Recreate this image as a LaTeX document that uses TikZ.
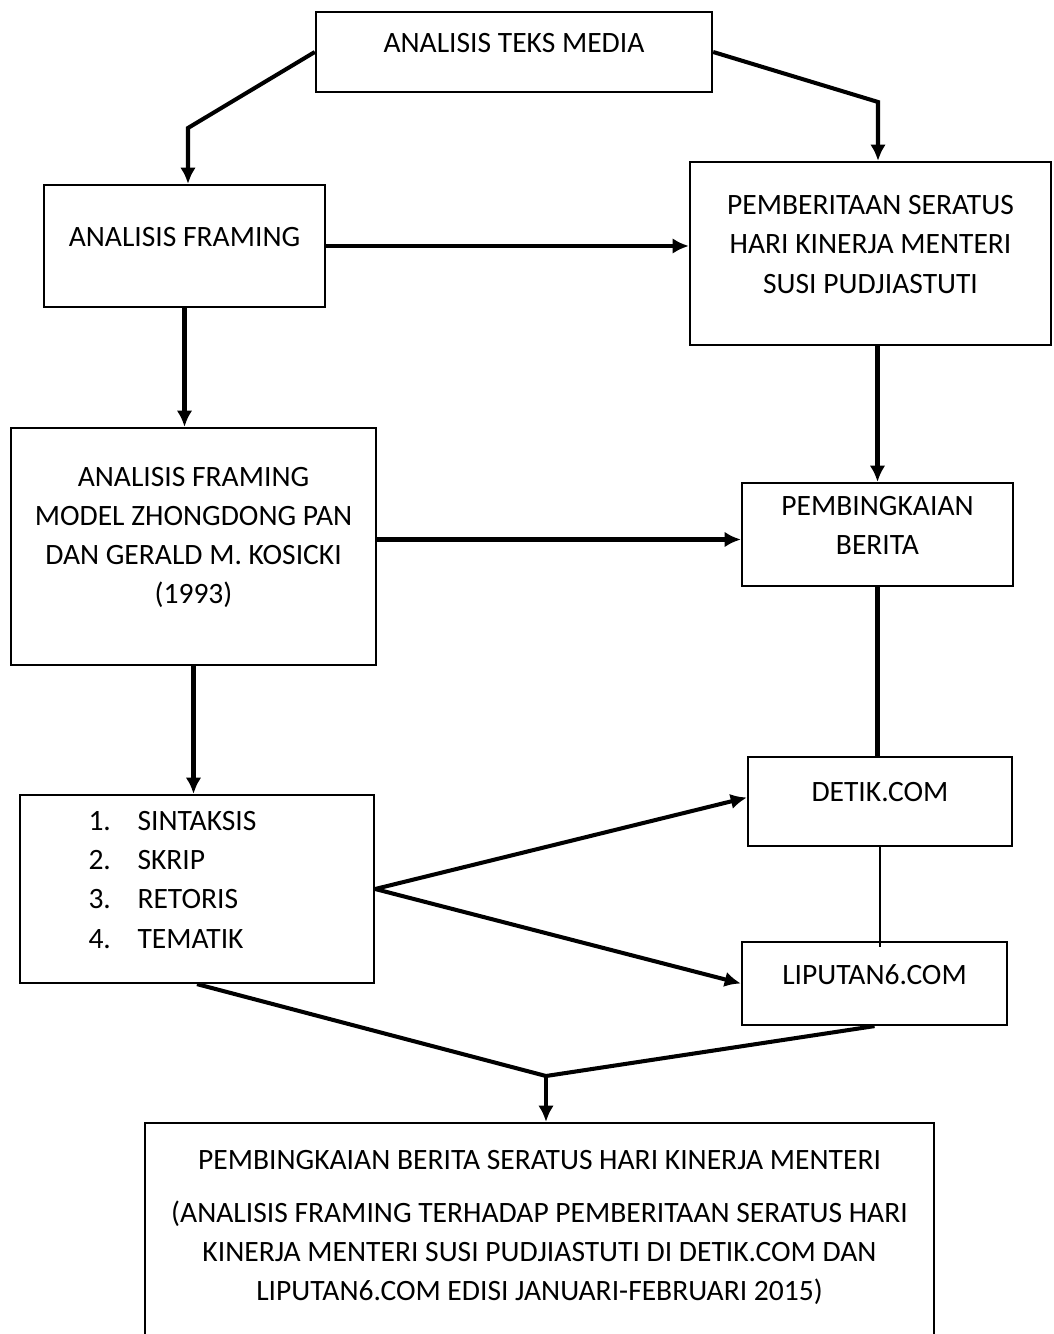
\documentclass[tikz,border=0pt]{standalone}
\usepackage{fontspec}
\setmainfont{Carlito}
\usetikzlibrary{arrows.meta,calc}
\begin{document}
\begin{tikzpicture}[x=0.01cm,y=-0.01cm,>={Latex[length=4.6pt,width=4.4pt]},
  txt/.style={align=center,inner sep=0pt,yshift=0.09cm,
    font=\fontsize{8.4}{11.1}\selectfont},
  box/.style={draw,line width=0.6pt,inner sep=0pt,label={[txt]center:#1}},
  link/.style={line width=1.15pt}]
\useasboundingbox (0,0) rectangle (1053,1334);
\clip (0,0) rectangle (1053,1334);

\node[box={ANALISIS TEKS MEDIA},minimum width=3.96cm,minimum height=0.8cm] (teks) at (514,52) {};
\node[box={ANALISIS FRAMING},minimum width=2.81cm,minimum height=1.22cm] (framing) at (184.5,246) {};
\node[box={PEMBERITAAN SERATUS\\HARI KINERJA MENTERI\\SUSI PUDJIASTUTI},
  minimum width=3.61cm,minimum height=1.83cm] (berita) at (870.5,253.5) {};
\node[box={ANALISIS FRAMING\\MODEL ZHONGDONG PAN\\DAN GERALD M. KOSICKI\\(1993)},
  minimum width=3.65cm,minimum height=2.37cm] (model) at (193.5,546.5) {};
\node[box={PEMBINGKAIAN\\BERITA},minimum width=2.71cm,minimum height=1.03cm] (bingkai) at (877.5,534.5) {};
\node[box={DETIK.COM},minimum width=2.64cm,minimum height=0.89cm] (detik) at (880,801.5) {};
\node[box={LIPUTAN6.COM},minimum width=2.65cm,minimum height=0.83cm] (liputan) at (874.5,983.5) {};
\node[draw,line width=0.6pt,minimum width=3.54cm,minimum height=1.88cm,
  label={[txt,align=left,xshift=-0.245cm]center:{\makebox[0.49cm][l]{1.}SINTAKSIS\\
   \makebox[0.49cm][l]{2.}SKRIP\\\makebox[0.49cm][l]{3.}RETORIS\\
   \makebox[0.49cm][l]{4.}TEMATIK}}] (list) at (197,889) {};
\node[box={PEMBINGKAIAN BERITA SERATUS HARI KINERJA MENTERI\\[4pt]
   (ANALISIS FRAMING TERHADAP PEMBERITAAN SERATUS HARI\\
   KINERJA MENTERI SUSI PUDJIASTUTI DI DETIK.COM DAN\\
   LIPUTAN6.COM EDISI JANUARI-FEBRUARI 2015)},
  minimum width=7.89cm,minimum height=2.27cm] (final) at (539.5,1236.5) {};

\coordinate (tl) at (188,128);
\coordinate (tr) at (878,102);
\coordinate (join) at (546,1076);

\draw[link,->] (teks.west) -- (tl) -- (tl |- framing.north);
\draw[link,->] (teks.east) -- (tr) -- (tr |- berita.north);
\draw[link,->] (framing.east) -- (framing.east -| berita.west);
\draw[link,->] (framing.south) -- (framing.south |- model.north);
\draw[link,->] ($(model.east)+(0,-7)$) -- ($(model.east -| bingkai.west)+(0,-7)$);
\draw[link,->] (bingkai.north |- berita.south) -- (bingkai.north);
\draw[link] (bingkai.south) -- (bingkai.south |- detik.north);
\draw[line width=0.75pt] (detik.south) -- ($(detik.south |- liputan.north)+(0,6)$);
\draw[link,->] (model.south) -- (model.south |- list.north);
\draw[link,->] (list.east) -- ($(detik.west)+(0,-4)$);
\draw[link,->] (list.east) -- (liputan.west);
\draw[link] (list.south) -- (join) -- (liputan.south);
\draw[link,->] (join) -- (join |- final.north);

\end{tikzpicture}
\end{document}
